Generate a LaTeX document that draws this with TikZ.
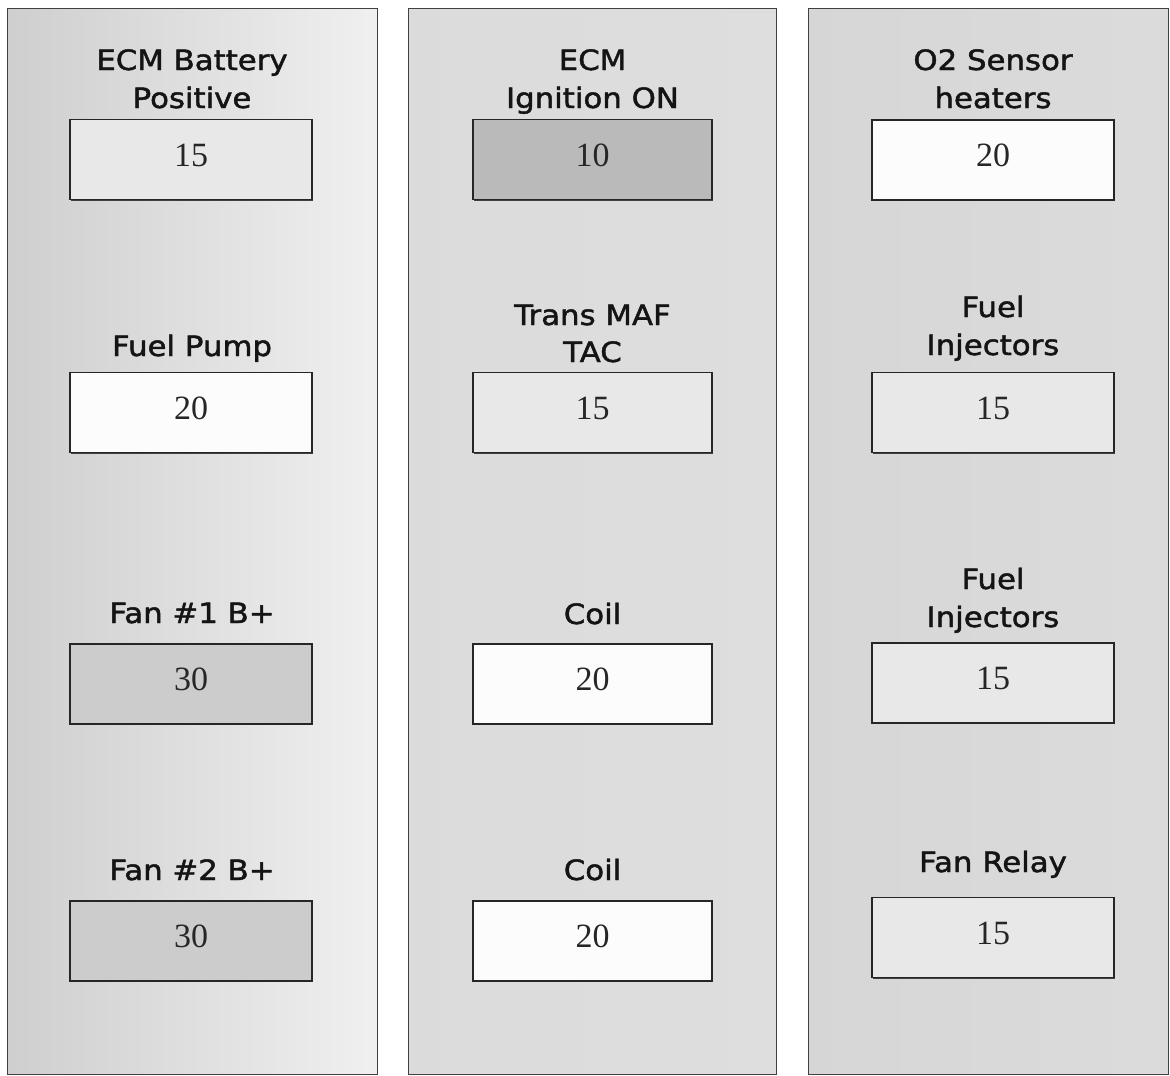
\documentclass[tikz,border=0pt]{standalone}
\usepackage{fontspec}
\setmainfont{Liberation Serif}
\newfontfamily\labfont[FakeStretch=1.1,FakeBold=1.6]{DejaVu Sans}
\usetikzlibrary{shadows}
\tikzset{
  panel/.style={draw=black!75, line width=0.8pt},
  fusebox/.style={draw=black!85, line width=1.4pt, minimum width=242pt, minimum height=80pt,
    inner sep=0pt, font=\fontsize{34}{34}\selectfont, text=black!85, text height=23pt, text depth=10pt,
    drop shadow={shadow xshift=1.3pt, shadow yshift=-1.3pt, fill=black!75, opacity=1}},
  narrow/.style={minimum width=239pt},
  lgray/.style={fill=black!9},
  mgray/.style={fill=black!20},
  dgray/.style={fill=black!27},
  wbox/.style={fill=black!1},
  lab/.style={anchor=base, inner sep=0pt, font=\labfont\fontsize{28}{38}\selectfont, text=black!92}
}
\begin{document}
\begin{tikzpicture}[x=1pt,y=-1pt]
\useasboundingbox[fill=white] (0,0) rectangle (1170,1076);
% panels
\shade[left color=black!19, middle color=black!16, right color=black!6] (7,8) rectangle (377,1074);
\draw[panel] (7,8) rectangle (377,1074);
\shade[left color=black!14, middle color=black!10, right color=black!13] (408,8) rectangle (776,1074);
\draw[panel] (408,8) rectangle (776,1074);
\shade[left color=black!16, middle color=black!13, right color=black!14] (808,8) rectangle (1168,1074);
\draw[panel] (808,8) rectangle (1168,1074);

% left column
\node[lab] (la1) at (192,70) {ECM Battery};
\node[lab] (la2) at (192,108) {Positive};
\node[fusebox, lgray] (lb1) at (191,159.5) {15};
\node[lab] (lc1) at (192,356) {Fuel Pump};
\node[fusebox, wbox] (lb2) at (191,412.5) {20};
\node[lab] (ld1) at (192,623) {Fan \#1 B+};
\node[fusebox, mgray] (lb3) at (191,684) {30};
\node[lab] (le1) at (192,880) {Fan \#2 B+};
\node[fusebox, mgray] (lb4) at (191,941) {30};

% middle column
\node[lab] (ma1) at (592.5,70) {ECM};
\node[lab] (ma2) at (592.5,108) {Ignition ON};
\node[fusebox, narrow, dgray] (mb1) at (592.5,159.5) {10};
\node[lab] (mc1) at (592.5,325) {Trans MAF};
\node[lab] (mc2) at (592.5,362) {TAC};
\node[fusebox, narrow, lgray] (mb2) at (592.5,412.5) {15};
\node[lab] (md1) at (592.5,624) {Coil};
\node[fusebox, narrow, wbox] (mb3) at (592.5,684) {20};
\node[lab] (me1) at (592.5,880) {Coil};
\node[fusebox, narrow, wbox] (mb4) at (592.5,941) {20};

% right column
\node[lab] (ra1) at (993,70) {O2 Sensor};
\node[lab] (ra2) at (993,108) {heaters};
\node[fusebox, wbox] (rb1) at (993,160) {20};
\node[lab] (rc1) at (993,317) {Fuel};
\node[lab] (rc2) at (993,355) {Injectors};
\node[fusebox, lgray] (rb2) at (993,412.5) {15};
\node[lab] (rd1) at (993,589) {Fuel};
\node[lab] (rd2) at (993,627) {Injectors};
\node[fusebox, lgray] (rb3) at (993,683) {15};
\node[lab] (re1) at (993,872) {Fan Relay};
\node[fusebox, lgray] (rb4) at (993,937.5) {15};
\end{tikzpicture}
\end{document}
